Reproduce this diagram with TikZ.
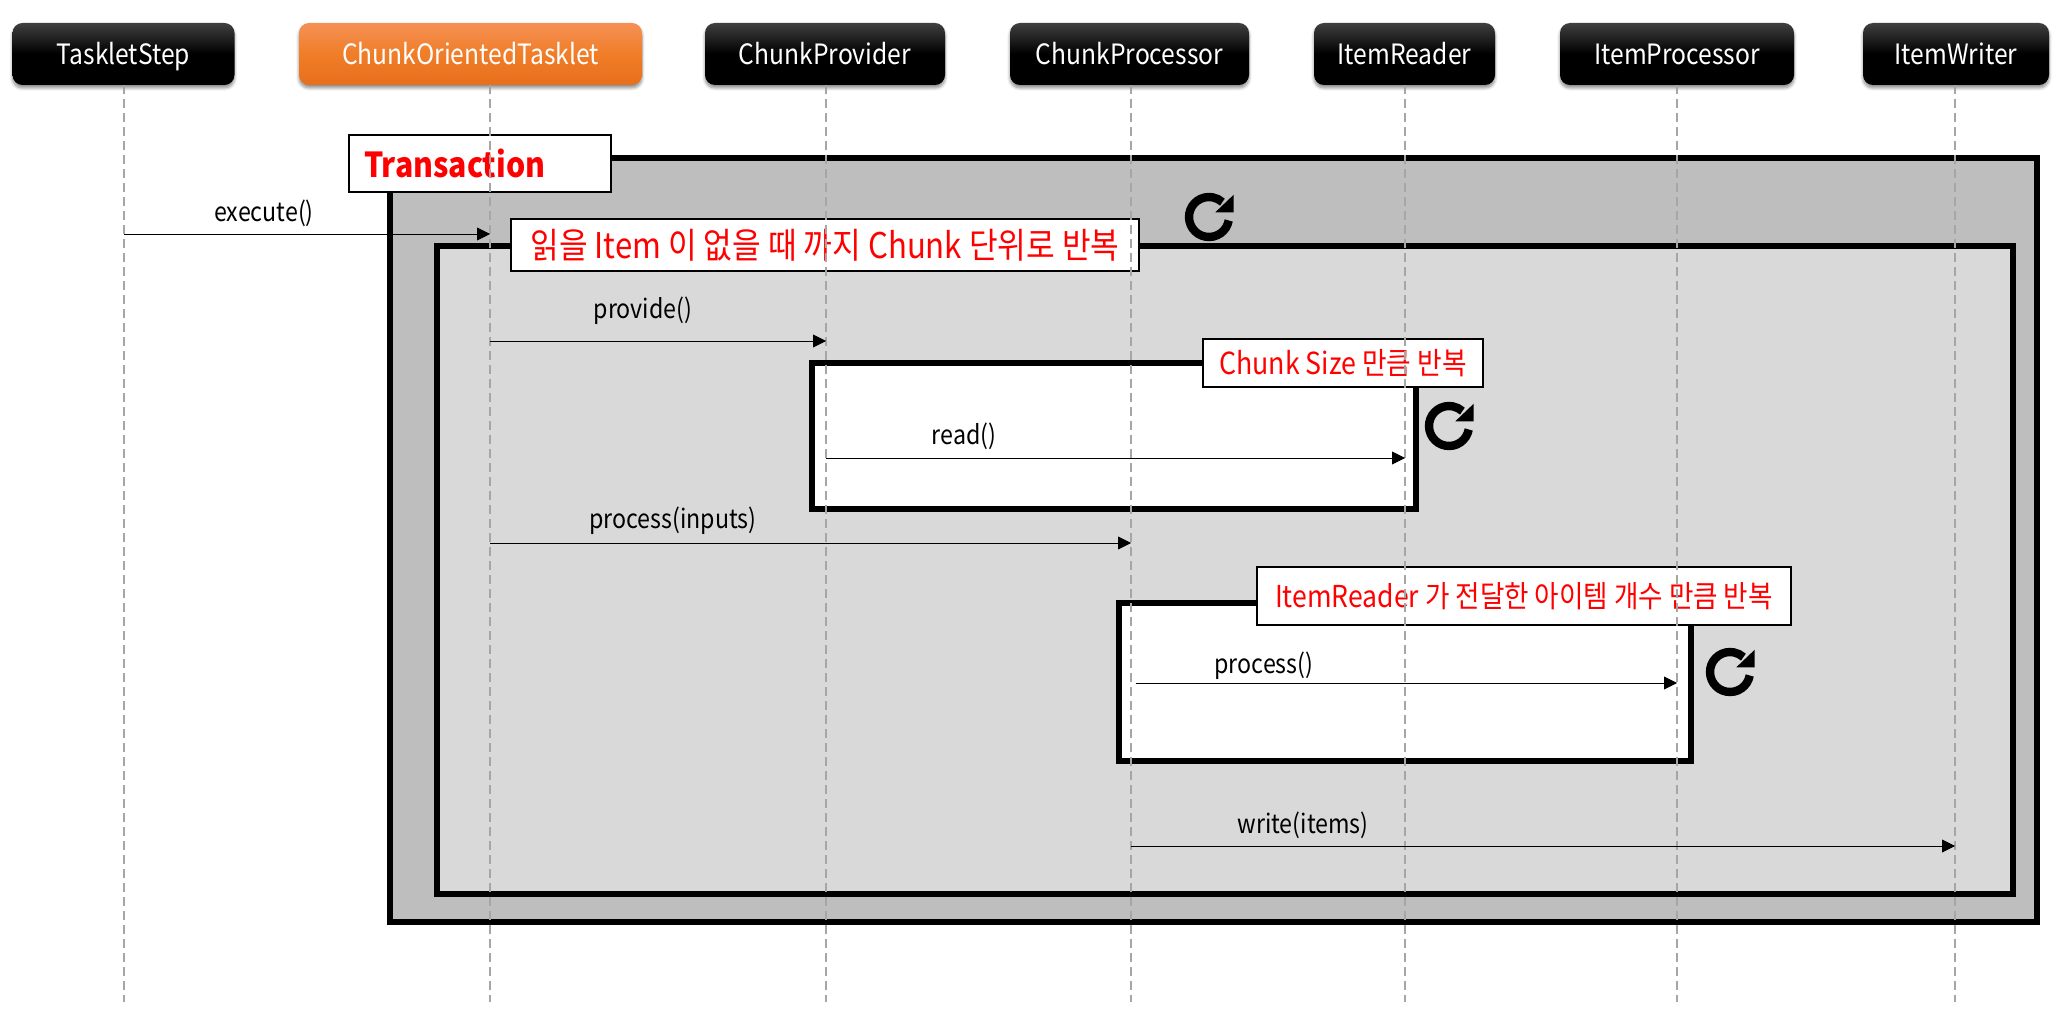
\documentclass[tikz,border=0pt]{standalone}
\usepackage{fontspec}
\setmainfont[FakeStretch=0.88]{Noto Sans CJK KR}
\usetikzlibrary{shadows.blur,arrows.meta}
\definecolor{outerfill}{HTML}{BEBEBE}
\definecolor{innerfill}{HTML}{D9D9D9}
\definecolor{lifegray}{HTML}{A6A6A6}
\definecolor{redtext}{HTML}{FF0000}
\definecolor{orange1}{HTML}{F59155}
\definecolor{orange2}{HTML}{F07D28}
\definecolor{orange3}{HTML}{E86F1C}
\tikzset{
  header/.style={rounded corners=5pt,minimum height=31pt,inner sep=0pt,anchor=center,
    text=white,font=\fontsize{14}{16}\selectfont,text height=12pt,text depth=1.9pt,
    blur shadow={shadow xshift=0pt,shadow yshift=-1.5pt,shadow blur steps=6,shadow blur radius=1.5pt,shadow opacity=45}},
  blackhead/.style={header,top color=black!75,bottom color=black,middle color=black,shading angle=0},
  orangehead/.style={header,top color=orange1,bottom color=orange3,middle color=orange2},
  frameA/.style={draw=black,line width=3pt,fill=outerfill},
  frameB/.style={draw=black,line width=3pt,fill=innerfill},
  frameC/.style={draw=black,line width=3pt,fill=white},
  tag/.style={draw=black,line width=1.1pt,fill=white,text=redtext,inner sep=0pt,anchor=center},
  lifeline/.style={draw=lifegray,line width=0.9pt,dash pattern=on 4.5pt off 2.5pt},
  msg/.style={draw=black,line width=0.45pt,-{Triangle[length=6.5pt,width=6.5pt]}},
  msglabel/.style={text=black,inner sep=0pt,font=\fontsize{13.2}{15}\selectfont,text height=10pt,text depth=3pt},
  refresh/.pic={
    \draw[line width=4.2pt] (-10:10pt) arc[start angle=-10,end angle=-312,radius=10pt];
    \fill (24.7,-22.3) -- (24.7,-4.7) -- (6.3,-4.7) -- cycle;
  }
}
\begin{document}
\begin{tikzpicture}[x=0.5pt,y=-0.5pt]
\useasboundingbox (0,0) rectangle (2062,1026);
% frames
\node[frameA,minimum width=823.5pt,minimum height=382pt,inner sep=0pt] (outer) at (1213.5,540) {};
\node[frameB,minimum width=788pt,minimum height=324pt,inner sep=0pt] (inner) at (1225,570) {};
\node[frameC,minimum width=302pt,minimum height=73pt,inner sep=0pt] (readbox) at (1114,436) {};
\node[frameC,minimum width=286pt,minimum height=79pt,inner sep=0pt] (procbox) at (1405,682) {};
% tags
\node[tag,minimum width=131pt,minimum height=28.5pt,text width=131pt,align=left] (tx) at (480,163.5)
  {\hspace{7.5pt}\fontsize{17.2}{20}\selectfont\bfseries Transaction};
\node[tag,minimum width=314pt,minimum height=26pt,font=\fontsize{17.7}{20}\selectfont] (tagA) at (825,245) {읽을 Item 이 없을 때 까지 Chunk 단위로 반복};
\node[tag,minimum width=140pt,minimum height=24pt,font=\fontsize{15.2}{18}\selectfont] (tagB) at (1343,363) {Chunk Size 만큼 반복};
\node[tag,minimum width=267pt,minimum height=29pt,font=\fontsize{15.1}{18}\selectfont] (tagC) at (1524,596) {\raisebox{-3pt}{ItemReader 가 전달한 아이템 개수 만큼 반복}};
% headers
\node[blackhead,minimum width=111pt] (h1) at (123.5,54) {TaskletStep};
\node[orangehead,minimum width=171.5pt] (h2) at (470.5,54) {ChunkOrientedTasklet};
\node[blackhead,minimum width=120pt] (h3) at (825,54) {ChunkProvider};
\node[blackhead,minimum width=119.5pt] (h4) at (1129.5,54) {ChunkProcessor};
\node[blackhead,minimum width=90.5pt] (h5) at (1404.5,54) {ItemReader};
\node[blackhead,minimum width=117pt] (h6) at (1677,54) {ItemProcessor};
\node[blackhead,minimum width=93pt] (h7) at (1956,54) {ItemWriter};
% lifeline ends
\coordinate (t1) at (124,85); \coordinate (b1) at (124,1002);
\coordinate (t2) at (490,85); \coordinate (b2) at (490,1002);
\coordinate (t3) at (826,85); \coordinate (b3) at (826,1002);
\coordinate (t4) at (1131,85); \coordinate (b4) at (1131,1002);
\coordinate (t5) at (1405,85); \coordinate (b5) at (1405,1002);
\coordinate (t6) at (1677,85); \coordinate (b6) at (1677,1002);
\coordinate (t7) at (1955,85); \coordinate (b7) at (1955,1002);
\foreach \i in {1,...,7} {\draw[lifeline] (t\i) -- (b\i);}
% messages
\draw[msg] (t1 |- 0,234) -- (t2 |- 0,234);
\draw[msg] (t2 |- 0,341) -- (t3 |- 0,341);
\draw[msg] (t3 |- 0,458) -- (t5 |- 0,458);
\draw[msg] (t2 |- 0,543) -- (t4 |- 0,543);
\draw[msg] (1136,683) -- (t6 |- 0,683);
\draw[msg] (t4 |- 0,846) -- (t7 |- 0,846);
\node[msglabel] (m1) at (264,215) {execute()};
\node[msglabel] (m2) at (643,312) {provide()};
\node[msglabel] (m3) at (964,438) {read()};
\node[msglabel] (m4) at (673,522) {process(inputs)};
\node[msglabel] (m5) at (1264,666) {process()};
\node[msglabel] (m6) at (1303,826) {write(items)};
% loop icons
\pic at (1209,217) {refresh};
\pic at (1449,426) {refresh};
\pic at (1730,672) {refresh};
\end{tikzpicture}
\end{document}
